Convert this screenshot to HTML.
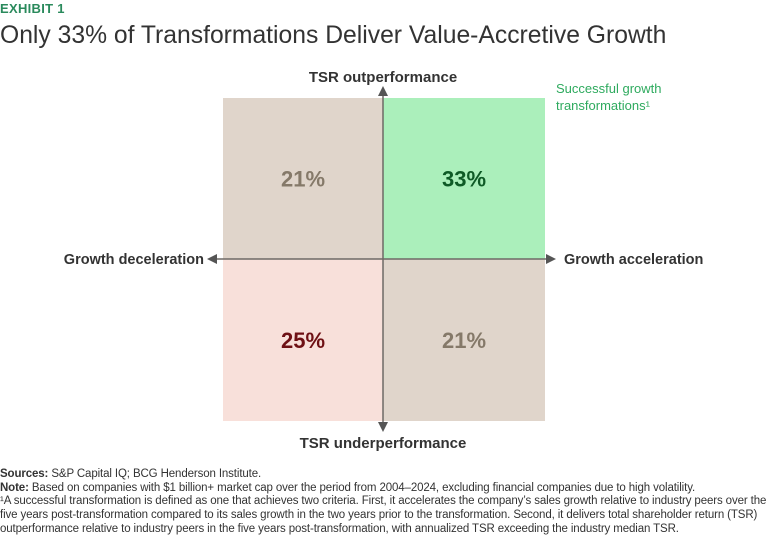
<!DOCTYPE html>
<html><head><meta charset="utf-8"><style>
body{margin:0;width:768px;height:537px;background:#fff;font-family:"Liberation Sans",sans-serif;position:relative;overflow:hidden}
.abs{position:absolute;white-space:nowrap}
.foot{left:0;font-size:11.5px;color:#333;letter-spacing:-0.12px;line-height:13.8px}
</style></head><body>
<div class="abs" style="left:0;top:1px;font-size:13px;font-weight:bold;color:#2a8a5c;letter-spacing:0.3px">EXHIBIT 1</div>
<div class="abs" style="left:0;top:22px;font-size:24.7px;color:#333">Only 33% of Transformations Deliver Value-Accretive Growth</div>
<svg class="abs" style="left:0;top:0" width="768" height="470">
<g id="quads"></g>
<line x1="383" y1="93" x2="383" y2="427" stroke="#6e6a66" stroke-width="1.5"/>
<line x1="213" y1="259" x2="550" y2="259" stroke="#6e6a66" stroke-width="1.5"/>
<polygon points="383,86 378,96 388,96" fill="#555"/>
<polygon points="383,432 378,422 388,422" fill="#555"/>
<polygon points="207,259 217,254 217,264" fill="#555"/>
<polygon points="556,259 546,254 546,264" fill="#555"/>
<text x="383" y="82" text-anchor="middle" font-size="15" font-weight="bold" fill="#333">TSR outperformance</text>
<text x="383" y="448" text-anchor="middle" font-size="15" font-weight="bold" fill="#333">TSR underperformance</text>
<text x="204" y="264" text-anchor="end" font-size="14.5" font-weight="bold" fill="#333">Growth deceleration</text>
<text x="564" y="264" font-size="14.5" font-weight="bold" fill="#333">Growth acceleration</text>
<text x="556" y="93" font-size="13" fill="#2eaa5e">Successful growth</text>
<text x="556" y="110" font-size="13" fill="#2eaa5e">transformations¹</text>
</svg>
<div class="abs foot" style="top:468px"><b>Sources:</b> S&amp;P Capital IQ; BCG Henderson Institute.</div>
<div class="abs foot" style="top:482px"><b>Note:</b> Based on companies with $1 billion+ market cap over the period from 2004–2024, excluding financial companies due to high volatility.</div>
<div class="abs foot" style="top:495px">¹A successful transformation is defined as one that achieves two criteria. First, it accelerates the company’s sales growth relative to industry peers over the<br>five years post-transformation compared to its sales growth in the two years prior to the transformation. Second, it delivers total shareholder return (TSR)<br>outperformance relative to industry peers in the five years post-transformation, with annualized TSR exceeding the industry median TSR.</div>
<script>
const quadrants=["top-left","top-right","bottom-left","bottom-right"];
const values=[21,33,25,21];
const fills=["#e0d5cb","#abefbb","#f8e0da","#e0d5cb"];
const textColors=["#857969","#0e5a26","#6e1014","#857969"];
const g=document.getElementById('quads');
const NS="http://www.w3.org/2000/svg";
const x0=223,xm=383,x1=545,y0=98,ym=259,y1=421;
quadrants.forEach((q,i)=>{
  const c=i%2,r=Math.floor(i/2);
  const qx=c?xm:x0,qw=c?x1-xm:xm-x0,qy=r?ym:y0,qh=r?y1-ym:ym-y0;
  const rect=document.createElementNS(NS,'rect');
  rect.setAttribute('x',qx);rect.setAttribute('y',qy);rect.setAttribute('width',qw);rect.setAttribute('height',qh);rect.setAttribute('fill',fills[i]);
  
  
  g.appendChild(rect);
  const t=document.createElementNS(NS,'text');
  t.setAttribute('x',qx+qw/2);t.setAttribute('y',qy+qh/2+8);t.setAttribute('text-anchor','middle');
  t.setAttribute('font-size','22');t.setAttribute('font-weight','bold');t.setAttribute('fill',textColors[i]);
  t.textContent=values[i]+'%';
  
  
  g.appendChild(t);
});
</script>
</body></html>
